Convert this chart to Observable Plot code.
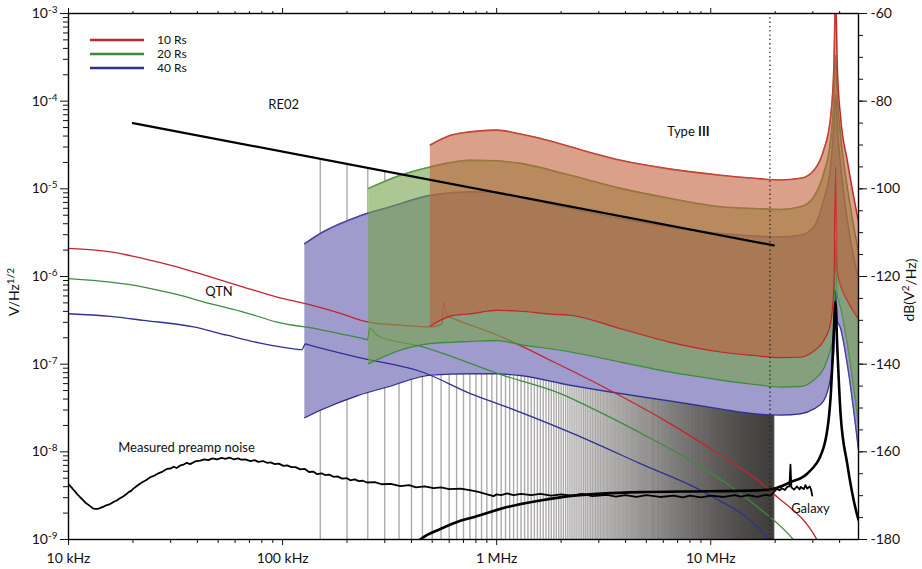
<!DOCTYPE html>
<html><head><meta charset="utf-8">
<script src="https://cdn.jsdelivr.net/npm/d3@7"></script>
<script src="https://cdn.jsdelivr.net/npm/@observablehq/plot@0.6"></script>
<style>body{margin:0;background:#fff;}</style>
</head><body><div id="chart"></div>
<script>
const FONT = "Lato, 'Open Sans', sans-serif";
// Frequencies in MHz; levels in dB(V²/Hz) = 20·log10(V/Hz^1/2)
const band10Freq  = [0.49, 0.61, 0.754, 1.0, 1.29, 1.85, 2.21, 3.79, 6.48, 11.1, 15.9, 21.2, 26.3, 30.3, 33.7, 36.3, 37.6, 38.3, 39.0, 40.4, 43.4, 49];
const band10Upper = [-90.0, -87.8, -87.0, -86.6, -87.5, -89.3, -90.4, -93.5, -95.5, -96.9, -97.6, -98.0, -97.6, -95.8, -91.2, -83.7, -72.2, -56, -72.2, -83.7, -93.5, -107.6];
const band10Lower = [-131.3, -129.0, -128.5, -127.7, -127.9, -128.6, -128.8, -131.9, -135.0, -137.2, -138.0, -138.5, -138.4, -137.0, -134.6, -130.5, -121.6, -95.0, -118.6, -122.0, -125.4, -129.7];

const band20Freq  = [0.2523, 0.355, 0.49, 0.754, 1.0, 1.29, 2.21, 3.79, 6.48, 11.1, 15.9, 21.2, 26.3, 30.3, 33.7, 36.3, 37.6, 38.3, 39.0, 40.4, 43.4, 49];
const band20Upper = [-99.9, -96.9, -95.0, -93.5, -93.6, -94.2, -96.9, -99.9, -102.2, -104.1, -104.5, -104.7, -104.1, -101.8, -96.5, -88.9, -79.8, -69.5, -79.0, -88.0, -99.6, -114.5];
const band20Lower = [-139.9, -136.8, -135.3, -134.8, -134.6, -135.5, -137.2, -139.5, -141.8, -143.6, -144.6, -145.2, -145.1, -143.6, -141.0, -136.5, -133.0, -111.7, -124.0, -127.0, -135.2, -153.5];

const band40Freq  = [0.127, 0.155, 0.223, 0.319, 0.49, 0.754, 1.0, 1.29, 2.21, 3.79, 6.48, 11.1, 15.9, 21.2, 26.3, 30.3, 33.7, 36.3, 37.6, 38.3, 39.0, 40.4, 43.4, 49];
const band40Upper = [-112.5, -109.8, -106.4, -104.1, -101.5, -100.7, -100.8, -102.0, -104.5, -106.8, -108.7, -110.2, -110.8, -111.0, -110.6, -108.7, -102.6, -95.0, -85.5, -78.6, -86.0, -94.5, -107.2, -120.6];
const band40Lower = [-152.2, -150.2, -147.2, -145.0, -142.5, -142.2, -142.2, -142.6, -144.8, -146.7, -148.4, -150.2, -151.3, -151.6, -151.3, -150.2, -148.3, -142.9, -136.8, -123.1, -130.0, -131.8, -139.9, -159.5];

const qtn10Freq  = [0.01, 0.0157, 0.0224, 0.0321, 0.0459, 0.0657, 0.0942, 0.128, 0.186, 0.252, 0.355, 0.49, 0.556, 0.5655, 0.587, 0.63, 0.968, 1.85, 3.16, 6.03, 9.62, 19.7, 31.4, 36];
const qtn10Level = [-113.6, -114.4, -115.9, -117.8, -120.1, -122.4, -124.7, -126.2, -128.4, -130.4, -131.1, -131.5, -130.8, -125.8, -128.9, -129.6, -133.0, -139.5, -145.2, -152.7, -158.8, -169.6, -180.1, -186];
const qtn20Freq  = [0.01, 0.0157, 0.0224, 0.0321, 0.0459, 0.0657, 0.0942, 0.15, 0.239, 0.2496, 0.255, 0.276, 0.456, 1.08, 1.985, 3.05, 5.22, 8.95, 15.3, 24.4, 30];
const qtn20Level = [-120.5, -121.3, -122.4, -124.1, -126.2, -128.1, -130.4, -132.1, -134.2, -134.4, -131.7, -133.4, -136.1, -142.6, -146.7, -151.0, -156.9, -163.3, -171.3, -180.1, -186];
const qtn40Freq  = [0.01, 0.0157, 0.0224, 0.0384, 0.055, 0.0787, 0.1126, 0.1232, 0.1277, 0.1347, 0.223, 0.456, 0.754, 1.118, 2.29, 4.69, 9.62, 17.7, 18.6, 22];
const qtn40Level = [-128.5, -129.1, -130.0, -131.5, -133.4, -135.2, -136.5, -136.7, -135.4, -135.7, -138.4, -141.9, -146.7, -149.8, -155.9, -162.7, -169.6, -178.7, -180.0, -184];

const re02Freq  = [0.02, 19.7];
const re02Level = [-85.0, -112.9];

const noiseFreq  = [0.01, 0.0104, 0.0107, 0.011, 0.0113, 0.0117, 0.012, 0.0124, 0.0127, 0.013, 0.0133, 0.0137, 0.0141, 0.0146, 0.015, 0.0155, 0.0158, 0.0163, 0.0168, 0.0174, 0.018, 0.0186, 0.0191, 0.0196, 0.0201, 0.021, 0.022, 0.023, 0.0241, 0.025, 0.0263, 0.0275, 0.0288, 0.03, 0.031, 0.032, 0.0333, 0.0345, 0.0357, 0.037, 0.039, 0.0413, 0.043, 0.045, 0.047, 0.0494, 0.052, 0.054, 0.0565, 0.059, 0.062, 0.064, 0.067, 0.0707, 0.074, 0.077, 0.081, 0.0846, 0.088, 0.092, 0.096, 0.101, 0.105, 0.11, 0.115, 0.121, 0.127, 0.133, 0.139, 0.145, 0.152, 0.158, 0.165, 0.173, 0.18, 0.19, 0.2, 0.207, 0.217, 0.227, 0.237, 0.248, 0.27, 0.29, 0.32, 0.355, 0.39, 0.42, 0.46, 0.508, 0.55, 0.6, 0.68, 0.781, 0.83, 0.87, 0.92, 0.968, 1.0, 1.05, 1.118, 1.2, 1.3, 1.45, 1.6, 1.8, 2.0, 2.25, 2.5, 2.8, 3.28, 3.6, 4.0, 4.5, 5.0, 5.8, 6.72, 7.4, 8.0, 9.0, 10.0, 11.5, 13.0, 13.8, 15.0, 16.5, 18.0, 19.0, 19.7, 20.4, 21.0, 21.5, 22.2, 22.75, 23.3, 23.57, 23.8, 24.5, 25.3, 26.0, 26.3, 27.2, 27.7, 28.2, 29.0, 29.4, 29.8];
const noiseLevel = [-167.4, -168.3, -169.0, -169.7, -170.3, -171.0, -171.6, -172.1, -172.5, -172.9, -173.0, -173.0, -172.8, -172.5, -172.2, -172.0, -171.8, -171.4, -171.1, -170.6, -170.2, -169.7, -169.2, -168.9, -168.4, -167.7, -167.0, -166.5, -165.8, -165.5, -164.9, -164.5, -163.9, -163.8, -163.4, -163.7, -163.1, -162.9, -162.5, -162.8, -162.2, -162.0, -161.7, -161.9, -161.5, -161.7, -161.4, -161.6, -161.3, -161.7, -161.5, -161.8, -161.7, -162.1, -161.9, -162.3, -162.1, -162.5, -162.4, -162.8, -162.7, -163.2, -163.1, -163.5, -163.5, -164.0, -163.9, -164.6, -164.5, -165.1, -164.9, -165.3, -165.2, -165.7, -165.6, -166.1, -166.0, -166.5, -166.3, -166.7, -166.6, -167.0, -166.9, -167.4, -167.3, -167.8, -167.6, -168.1, -167.9, -168.3, -168.1, -168.5, -168.4, -168.9, -169.2, -169.5, -169.8, -170.1, -169.7, -169.9, -169.5, -169.9, -169.6, -169.9, -169.6, -170.0, -169.7, -170.0, -169.6, -170.1, -169.8, -170.2, -169.9, -170.3, -169.9, -170.3, -170.0, -170.4, -170.0, -170.4, -170.0, -170.3, -169.9, -170.2, -169.9, -170.3, -169.8, -170.0, -169.2, -168.4, -168.8, -168.3, -168.7, -168.0, -167.9, -162.9, -168.1, -168.6, -167.9, -168.6, -168.0, -168.5, -167.6, -168.4, -167.9, -168.6, -170.0];

const galaxyFreq  = [0.40, 0.44, 0.546, 0.677, 0.781, 1.118, 1.6, 2.29, 4.69, 9.62, 16.5, 19.7, 23.6, 28.2, 33.7, 36.3, 37.6, 38.2, 39.0, 40.4, 43.4, 48.6, 49];
const galaxyLevel = [-182, -180.0, -177.6, -175.7, -174.9, -172.6, -171.1, -170.0, -169.2, -169.0, -168.8, -168.4, -166.9, -165.0, -158.9, -147.5, -132.3, -125.8, -136.1, -151.3, -162.7, -174.9, -175.5];

const channelStart = 0.15, channelStep = 0.05, channelEnd = 19.7; // receiver channels, MHz
const markerFreq = 18.9;

const xTicks = [0.01, 0.1, 1, 10];
const xTickLabels = ["10 kHz", "100 kHz", "1 MHz", "10 MHz"];
const yTicksDb = [-60, -80, -100, -120, -140, -160, -180];

const seriesNames = ["10 Rs", "20 Rs", "40 Rs"];
const lineColors = ["#c1272d", "#3b8c3f", "#2e3192"];
const fillColors = ["#c2603a", "#75a248", "#6158ac"];

// ---- build tables
const zip = (f, a, b) => f.map((x, i) => ({f: x, hi: a[i], lo: b ? b[i] : undefined}));
const band10 = zip(band10Freq, band10Upper, band10Lower);
const band20 = zip(band20Freq, band20Upper, band20Lower);
const band40 = zip(band40Freq, band40Upper, band40Lower);
const line = (f, v) => f.map((x, i) => ({f: x, v: v[i]}));
const qtn10 = line(qtn10Freq, qtn10Level), qtn20 = line(qtn20Freq, qtn20Level), qtn40 = line(qtn40Freq, qtn40Level);
const re02 = line(re02Freq, re02Level);
const noise = line(noiseFreq, noiseLevel);
const galaxy = line(galaxyFreq, galaxyLevel);
const re02At = f => re02Level[0] + (re02Level[1] - re02Level[0]) * Math.log(f / re02Freq[0]) / Math.log(re02Freq[1] / re02Freq[0]);
const channels = d3.range(channelStart, channelEnd + 1e-9, channelStep).map(f => ({f, top: re02At(f)}));

const xMinor = [];
for (const dec of [0.01, 0.1, 1, 10]) for (let k = 2; k <= 9; k++) if (k * dec <= 49) xMinor.push(k * dec);
const yMinorLeft = [];
for (let n = 3; n <= 9; n++) for (let k = 2; k <= 9; k++) { const v = -20 * n + 20 * Math.log10(k); if (v <= -60 && v >= -180) yMinorLeft.push(v); }
const yMinorRight = d3.range(-180, -59, 5);

const cm = "monotone-x";
const edges = (rows, color) => [
  Plot.line(rows, {x: "f", y: "hi", stroke: color, strokeWidth: 1.6, curve: cm, clip: true}),
  Plot.line(rows, {x: "f", y: "lo", stroke: color, strokeWidth: 1.4, curve: cm, clip: true})
];
const fillBand = (rows, color) => Plot.areaY(rows, {x: "f", y1: "lo", y2: "hi", fill: color, fillOpacity: 0.6, curve: cm, clip: true});
const whiteBand = rows => Plot.areaY(rows, {x: "f", y1: "lo", y2: "hi", fill: "#fff", curve: cm, clip: true});

const chart = Plot.plot({
  width: 922, height: 569,
  marginLeft: 68, marginRight: 64, marginTop: 13, marginBottom: 30,
  style: {fontFamily: FONT, fontSize: "14px", color: "#111", background: "#fff", overflow: "visible"},
  x: {type: "log", domain: [0.01, 49]},
  y: {domain: [-180, -60]},
  marks: [
    Plot.ruleX(channels, {x: "f", y1: -180, y2: "top", stroke: "#3a3835", strokeOpacity: 0.42, strokeWidth: 1.4}),
    whiteBand(band40), whiteBand(band20), whiteBand(band10),
    ...edges(band40, lineColors[2]), fillBand(band40, fillColors[2]),
    Plot.line(qtn10, {x: "f", y: "v", stroke: lineColors[0], strokeWidth: 1.3, curve: cm, clip: true}),
    Plot.line(qtn20, {x: "f", y: "v", stroke: lineColors[1], strokeWidth: 1.3, curve: cm, clip: true}),
    Plot.line(qtn40, {x: "f", y: "v", stroke: lineColors[2], strokeWidth: 1.3, curve: cm, clip: true}),
    ...edges(band20, lineColors[1]), fillBand(band20, fillColors[1]),
    ...edges(band10, lineColors[0]), fillBand(band10, fillColors[0]),
    Plot.line(re02, {x: "f", y: "v", stroke: "#000", strokeWidth: 2.2}),
    Plot.line(noise, {x: "f", y: "v", stroke: "#000", strokeWidth: 1.8, curve: "linear", clip: true}),
    Plot.line(galaxy, {x: "f", y: "v", stroke: "#000", strokeWidth: 2.6, curve: cm, clip: true}),
    Plot.ruleX([markerFreq], {stroke: "#222", strokeWidth: 1.3, strokeDasharray: "1.3,3"}),
    Plot.text([{f: 0.0857, v: -80.9, t: "RE02"}, {f: 6.27, v: -87.0, t: "Type III"}, {f: 0.0435, v: -123.5, t: "QTN"},
               {f: 0.01707, v: -159.2, t: "Measured preamp noise"}, {f: 23.75, v: -173.0, t: "Galaxy"}],
      {x: "f", y: "v", text: "t", textAnchor: "start", fontSize: 13, fill: "#111"}),
    Plot.frame({stroke: "#000", strokeWidth: 1.4}),
    Plot.axisX({ticks: xTicks, tickFormat: d => xTickLabels[xTicks.indexOf(d)], tickSize: 6, tickPadding: 8, label: null, fontSize: 14}),
    Plot.axisX({ticks: xMinor, tickFormat: () => "", tickSize: 4, label: null}),
    Plot.axisX({anchor: "top", ticks: xTicks, tickFormat: () => "", tickSize: 6, label: null}),
    Plot.axisX({anchor: "top", ticks: xMinor, tickFormat: () => "", tickSize: 3, label: null}),
    Plot.axisY({anchor: "left", ticks: yTicksDb, tickFormat: d => "10^" + (d / 20), tickSize: 8, tickPadding: 3, label: null, fontSize: 14}),
    Plot.axisY({anchor: "left", ticks: yMinorLeft, tickFormat: () => "", tickSize: 5, label: null}),
    Plot.axisY({anchor: "right", ticks: yTicksDb, tickFormat: d => String(d), tickSize: 8, tickPadding: 4, label: null, fontSize: 14}),
    Plot.axisY({anchor: "right", ticks: yMinorRight, tickFormat: () => "", tickSize: 4, label: null})
  ]
});
document.getElementById("chart").appendChild(chart);

// ---- text refinements (superscripts, bold, titles, legend)
const svg = d3.select(chart);
svg.selectAll("text").each(function () {
  const t = this.textContent;
  if (t.startsWith("10^")) {
    const exp = t.slice(3);
    this.textContent = "10";
    d3.select(this).append("tspan").attr("dy", "-0.5em").attr("font-size", "10px").text(exp);
  } else if (t === "Type III") {
    this.textContent = "Type ";
    d3.select(this).append("tspan").attr("font-weight", "bold").text("III");
  }
});
const lt = svg.append("text").attr("transform", "translate(19,292) rotate(-90)").attr("text-anchor", "middle")
  .attr("font-family", FONT).attr("font-size", 14).attr("fill", "#111").text("V/Hz");
lt.append("tspan").attr("dy", "-0.5em").attr("font-size", "10px").text("1/2");
const rt = svg.append("text").attr("transform", "translate(914,290) rotate(-90)").attr("text-anchor", "middle")
  .attr("font-family", FONT).attr("font-size", 14).attr("fill", "#111").text("dB(V");
rt.append("tspan").attr("dy", "-0.5em").attr("font-size", "10px").text("2");
rt.append("tspan").attr("dy", "0.5em").text("/Hz)");

const lg = svg.append("g").attr("font-family", FONT).attr("font-size", 12).attr("fill", "#111").attr("text-anchor", "start");
seriesNames.forEach((name, i) => {
  const y = 40 + i * 14;
  lg.append("line").attr("x1", 90).attr("x2", 144).attr("y1", y).attr("y2", y).attr("stroke", lineColors[i]).attr("stroke-width", 2.4);
  lg.append("text").attr("x", 157).attr("y", y).attr("dy", "0.35em").attr("text-anchor", "start").text(name);
});
</script>
</body></html>
